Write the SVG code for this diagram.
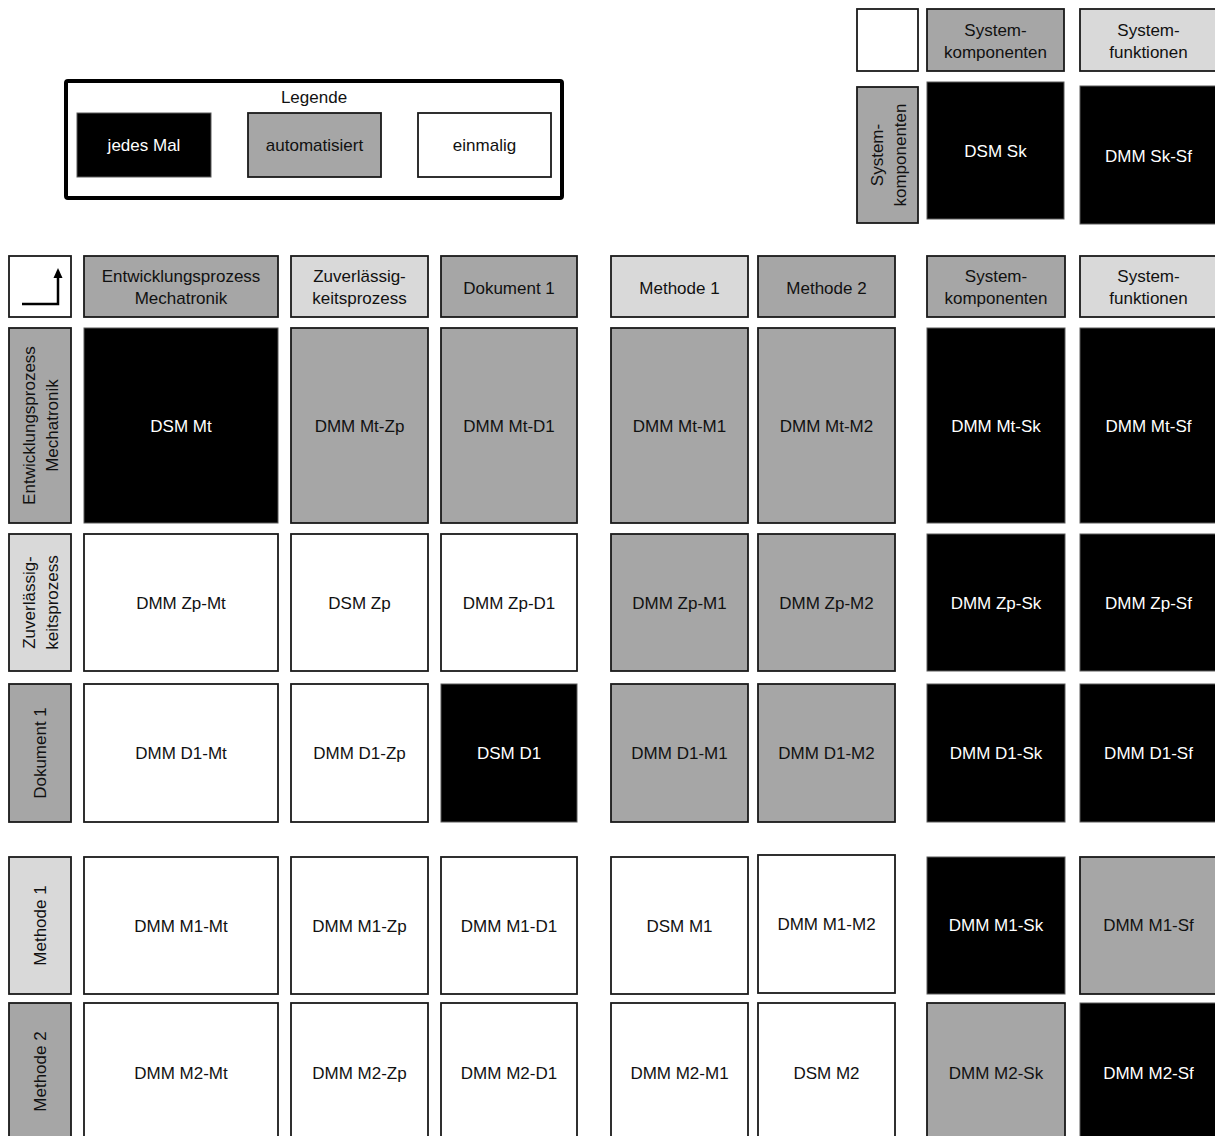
<svg xmlns="http://www.w3.org/2000/svg" width="1215" height="1136" viewBox="0 0 1215 1136">
  <style>
    rect { stroke: #1a1a1a; stroke-width: 1.8; }
    rect.bg { fill: #ffffff; stroke: none; }
    .blk { fill: #000000; stroke: #5a5a5a; stroke-width: 1; }
    .gry { fill: #a6a6a6; }
    .lgt { fill: #d9d9d9; }
    .wht { fill: #ffffff; }
    text { font-family: "Liberation Sans", Arial, sans-serif; font-size: 17px; text-anchor: middle; fill: #111111; }
    text.w { fill: #ffffff; }
    .frame { fill: #ffffff; stroke: #000000; stroke-width: 4; }
  </style>
  <rect class="bg" x="0" y="0" width="1215" height="1136"/>

  <!-- Legend -->
  <g id="legend">
    <rect class="frame" x="66" y="81" width="496" height="117" rx="2"/>
    <text x="314" y="103">Legende</text>
    <rect class="blk" x="77" y="113" width="134" height="64"/>
    <text class="w" x="144" y="151">jedes Mal</text>
    <rect class="gry" x="248" y="113" width="133" height="64"/>
    <text x="314.5" y="151">automatisiert</text>
    <rect class="wht" x="418" y="113" width="133" height="64"/>
    <text x="484.5" y="151">einmalig</text>
  </g>

  <!-- Upper right block: system components / functions -->
  <g id="sys-corner"><rect class="wht" x="857" y="9" width="61" height="62"/></g>
  <g id="sys-head-sk">
    <rect class="gry" x="927" y="9" width="137" height="62"/>
    <text x="995.5" y="36">System-</text>
    <text x="995.5" y="58">komponenten</text>
  </g>
  <g id="sys-head-sf">
    <rect class="lgt" x="1080" y="9" width="137" height="62"/>
    <text x="1148.5" y="36">System-</text>
    <text x="1148.5" y="58">funktionen</text>
  </g>
  <g id="sys-row-sk">
    <rect class="gry" x="857" y="87" width="61" height="136"/>
    <g transform="translate(887.5,155) rotate(-90)">
      <text x="0" y="-5">System-</text>
      <text x="0" y="18">komponenten</text>
    </g>
  </g>
  <g id="dsm-sk">
    <rect class="blk" x="927" y="82" width="137" height="137"/>
    <text class="w" x="995.5" y="157">DSM Sk</text>
  </g>
  <g id="dmm-sk-sf">
    <rect class="blk" x="1080" y="86" width="137" height="138"/>
    <text class="w" x="1148.5" y="162">DMM Sk-Sf</text>
  </g>

  <!-- Corner marker of the main matrix -->
  <g id="corner">
    <rect class="wht" x="9" y="256" width="62" height="61"/>
    <path d="M22,304 H58 V276" fill="none" stroke="#000" stroke-width="2.5"/>
    <polygon points="58,268 62.5,278 53.5,278" fill="#000"/>
  </g>

  <!-- Column headers -->
  <g id="head-mt">
    <rect class="gry" x="84" y="256" width="194" height="61"/>
    <text x="181" y="282">Entwicklungsprozess</text>
    <text x="181" y="304">Mechatronik</text>
  </g>
  <g id="head-zp">
    <rect class="lgt" x="291" y="256" width="137" height="61"/>
    <text x="359.5" y="282">Zuverlässig-</text>
    <text x="359.5" y="304">keitsprozess</text>
  </g>
  <g id="head-d1">
    <rect class="gry" x="441" y="256" width="136" height="61"/>
    <text x="509" y="294">Dokument 1</text>
  </g>
  <g id="head-m1">
    <rect class="lgt" x="611" y="256" width="137" height="61"/>
    <text x="679.5" y="294">Methode 1</text>
  </g>
  <g id="head-m2">
    <rect class="gry" x="758" y="256" width="137" height="61"/>
    <text x="826.5" y="294">Methode 2</text>
  </g>
  <g id="head-sk">
    <rect class="gry" x="927" y="256" width="138" height="61"/>
    <text x="996" y="282">System-</text>
    <text x="996" y="304">komponenten</text>
  </g>
  <g id="head-sf">
    <rect class="lgt" x="1080" y="256" width="137" height="61"/>
    <text x="1148.5" y="282">System-</text>
    <text x="1148.5" y="304">funktionen</text>
  </g>

  <!-- Row headers -->
  <g id="row-mt">
    <rect class="gry" x="9" y="328" width="62" height="195"/>
    <g transform="translate(40,425.5) rotate(-90)">
      <text x="0" y="-5">Entwicklungsprozess</text>
      <text x="0" y="18">Mechatronik</text>
    </g>
  </g>
  <g id="row-zp">
    <rect class="lgt" x="9" y="534" width="62" height="137"/>
    <g transform="translate(40,602.5) rotate(-90)">
      <text x="0" y="-5">Zuverlässig-</text>
      <text x="0" y="18">keitsprozess</text>
    </g>
  </g>
  <g id="row-d1">
    <rect class="gry" x="9" y="684" width="62" height="138"/>
    <text transform="translate(40,753) rotate(-90)" x="0" y="6">Dokument 1</text>
  </g>
  <g id="row-m1">
    <rect class="lgt" x="9" y="857" width="62" height="137"/>
    <text transform="translate(40,925.5) rotate(-90)" x="0" y="6">Methode 1</text>
  </g>
  <g id="row-m2">
    <rect class="gry" x="9" y="1003" width="62" height="140"/>
    <text transform="translate(40,1071.5) rotate(-90)" x="0" y="6">Methode 2</text>
  </g>

  <!-- Row: Entwicklungsprozess Mechatronik -->
  <g id="dsm-mt"><rect class="blk" x="84" y="328" width="194" height="195"/><text class="w" x="181" y="431.5">DSM Mt</text></g>
  <g id="dmm-mt-zp"><rect class="gry" x="291" y="328" width="137" height="195"/><text x="359.5" y="431.5">DMM Mt-Zp</text></g>
  <g id="dmm-mt-d1"><rect class="gry" x="441" y="328" width="136" height="195"/><text x="509" y="431.5">DMM Mt-D1</text></g>
  <g id="dmm-mt-m1"><rect class="gry" x="611" y="328" width="137" height="195"/><text x="679.5" y="431.5">DMM Mt-M1</text></g>
  <g id="dmm-mt-m2"><rect class="gry" x="758" y="328" width="137" height="195"/><text x="826.5" y="431.5">DMM Mt-M2</text></g>
  <g id="dmm-mt-sk"><rect class="blk" x="927" y="328" width="138" height="195"/><text class="w" x="996" y="431.5">DMM Mt-Sk</text></g>
  <g id="dmm-mt-sf"><rect class="blk" x="1080" y="328" width="137" height="195"/><text class="w" x="1148.5" y="431.5">DMM Mt-Sf</text></g>

  <!-- Row: Zuverlaessigkeitsprozess -->
  <g id="dmm-zp-mt"><rect class="wht" x="84" y="534" width="194" height="137"/><text x="181" y="608.5">DMM Zp-Mt</text></g>
  <g id="dsm-zp"><rect class="wht" x="291" y="534" width="137" height="137"/><text x="359.5" y="608.5">DSM Zp</text></g>
  <g id="dmm-zp-d1"><rect class="wht" x="441" y="534" width="136" height="137"/><text x="509" y="608.5">DMM Zp-D1</text></g>
  <g id="dmm-zp-m1"><rect class="gry" x="611" y="534" width="137" height="137"/><text x="679.5" y="608.5">DMM Zp-M1</text></g>
  <g id="dmm-zp-m2"><rect class="gry" x="758" y="534" width="137" height="137"/><text x="826.5" y="608.5">DMM Zp-M2</text></g>
  <g id="dmm-zp-sk"><rect class="blk" x="927" y="534" width="138" height="137"/><text class="w" x="996" y="608.5">DMM Zp-Sk</text></g>
  <g id="dmm-zp-sf"><rect class="blk" x="1080" y="534" width="137" height="137"/><text class="w" x="1148.5" y="608.5">DMM Zp-Sf</text></g>

  <!-- Row: Dokument 1 -->
  <g id="dmm-d1-mt"><rect class="wht" x="84" y="684" width="194" height="138"/><text x="181" y="759">DMM D1-Mt</text></g>
  <g id="dmm-d1-zp"><rect class="wht" x="291" y="684" width="137" height="138"/><text x="359.5" y="759">DMM D1-Zp</text></g>
  <g id="dsm-d1"><rect class="blk" x="441" y="684" width="136" height="138"/><text class="w" x="509" y="759">DSM D1</text></g>
  <g id="dmm-d1-m1"><rect class="gry" x="611" y="684" width="137" height="138"/><text x="679.5" y="759">DMM D1-M1</text></g>
  <g id="dmm-d1-m2"><rect class="gry" x="758" y="684" width="137" height="138"/><text x="826.5" y="759">DMM D1-M2</text></g>
  <g id="dmm-d1-sk"><rect class="blk" x="927" y="684" width="138" height="138"/><text class="w" x="996" y="759">DMM D1-Sk</text></g>
  <g id="dmm-d1-sf"><rect class="blk" x="1080" y="684" width="137" height="138"/><text class="w" x="1148.5" y="759">DMM D1-Sf</text></g>

  <!-- Row: Methode 1 -->
  <g id="dmm-m1-mt"><rect class="wht" x="84" y="857" width="194" height="137"/><text x="181" y="932">DMM M1-Mt</text></g>
  <g id="dmm-m1-zp"><rect class="wht" x="291" y="857" width="137" height="137"/><text x="359.5" y="932">DMM M1-Zp</text></g>
  <g id="dmm-m1-d1"><rect class="wht" x="441" y="857" width="136" height="137"/><text x="509" y="932">DMM M1-D1</text></g>
  <g id="dsm-m1"><rect class="wht" x="611" y="857" width="137" height="137"/><text x="679.5" y="932">DSM M1</text></g>
  <g id="dmm-m1-m2"><rect class="wht" x="758" y="855" width="137" height="138"/><text x="826.5" y="930">DMM M1-M2</text></g>
  <g id="dmm-m1-sk"><rect class="blk" x="927" y="857" width="138" height="137"/><text class="w" x="996" y="931">DMM M1-Sk</text></g>
  <g id="dmm-m1-sf"><rect class="gry" x="1080" y="857" width="137" height="137"/><text x="1148.5" y="931">DMM M1-Sf</text></g>

  <!-- Row: Methode 2 -->
  <g id="dmm-m2-mt"><rect class="wht" x="84" y="1003" width="194" height="140"/><text x="181" y="1079">DMM M2-Mt</text></g>
  <g id="dmm-m2-zp"><rect class="wht" x="291" y="1003" width="137" height="140"/><text x="359.5" y="1079">DMM M2-Zp</text></g>
  <g id="dmm-m2-d1"><rect class="wht" x="441" y="1003" width="136" height="140"/><text x="509" y="1079">DMM M2-D1</text></g>
  <g id="dmm-m2-m1"><rect class="wht" x="611" y="1003" width="137" height="140"/><text x="679.5" y="1079">DMM M2-M1</text></g>
  <g id="dsm-m2"><rect class="wht" x="758" y="1003" width="137" height="140"/><text x="826.5" y="1079">DSM M2</text></g>
  <g id="dmm-m2-sk"><rect class="gry" x="927" y="1003" width="138" height="140"/><text x="996" y="1079">DMM M2-Sk</text></g>
  <g id="dmm-m2-sf"><rect class="blk" x="1080" y="1003" width="137" height="140"/><text class="w" x="1148.5" y="1079">DMM M2-Sf</text></g>

  <!-- No connectors in this matrix layout -->
  <g id="connectors"/>
</svg>
